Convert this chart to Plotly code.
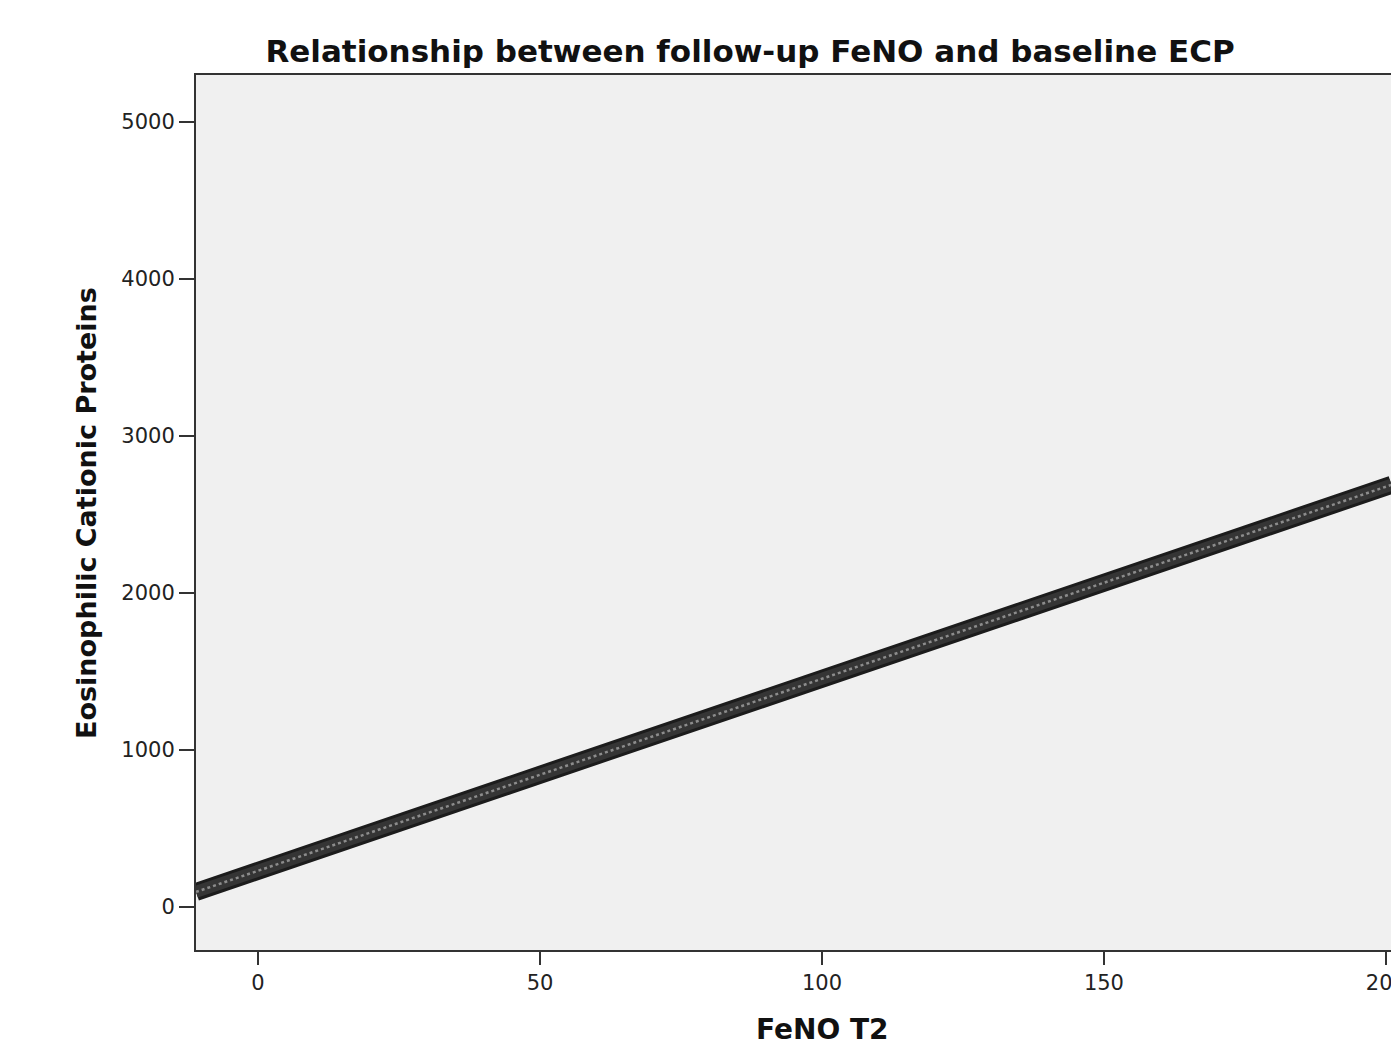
import plotly.graph_objects as go

# Fitted regression line of baseline ECP on follow-up FeNO (end points of the fit)
fit_feno = [-11.0, 201.0]
fit_ecp = [96.0, 2689.0]

x_ticks = [0, 50, 100, 150, 200]
y_ticks = [0, 1000, 2000, 3000, 4000, 5000]

title_text = "Relationship between follow-up FeNO and baseline ECP"
x_title = "FeNO T2"
y_title = "Eosinophilic Cationic Proteins"

font_family = "DejaVu Sans, Verdana, sans-serif"

W, H = 1391, 1046
L, R, T, B = 196, 0, 75, 96
plot_w = W - L - R
plot_h = H - T - B

fig = go.Figure()

# thick dark band
fig.add_trace(go.Scatter(
    x=fit_feno, y=fit_ecp, mode="lines",
    line=dict(color="#1c1c1c", width=18),
    hoverinfo="skip", showlegend=False,
))
# inner, slightly lighter body of the band
fig.add_trace(go.Scatter(
    x=fit_feno, y=fit_ecp, mode="lines",
    line=dict(color="#353535", width=12),
    hoverinfo="skip", showlegend=False,
))
# dotted texture along the band
fig.add_trace(go.Scatter(
    x=fit_feno, y=fit_ecp, mode="lines",
    line=dict(color="#8c8c8c", width=2.5, dash="dot"),
    hoverinfo="skip", showlegend=False,
))

fig.update_layout(
    width=W, height=H,
    margin=dict(l=L, r=R, t=T, b=B, autoexpand=False),
    paper_bgcolor="white",
    plot_bgcolor="#F0F0F0",
    font=dict(family=font_family, color="#222222", size=21),
    title=dict(
        text="<b>" + title_text + "</b>",
        x=750 / W, xanchor="center", xref="container",
        y=1 - 51 / H, yanchor="middle", yref="container",
        font=dict(size=31, color="#111111"),
    ),
    showlegend=False,
)

# axis titles placed as annotations relative to the plot area
fig.add_annotation(
    text="<b>" + x_title + "</b>", showarrow=False,
    xref="paper", yref="paper",
    x=(822 - L) / plot_w, y=-(1029 - (T + plot_h)) / plot_h,
    xanchor="center", yanchor="middle",
    font=dict(size=28, color="#111111", family=font_family),
)
fig.add_annotation(
    text="<b>" + y_title + "</b>", showarrow=False, textangle=-90,
    xref="paper", yref="paper",
    x=(86 - L) / plot_w, y=(T + plot_h - 513) / plot_h,
    xanchor="center", yanchor="middle",
    font=dict(size=27, color="#111111", family=font_family),
)

fig.update_xaxes(
    range=[-11.0, 200.9],
    tickvals=x_ticks, ticktext=[str(v) for v in x_ticks],
    ticks="outside", ticklen=13, tickwidth=2, tickcolor="#333333",
    showline=True, linecolor="#333333", linewidth=2, mirror=True,
    showgrid=False, zeroline=False, automargin=False,
    ticklabeloverflow="allow",
    tickfont=dict(size=21, color="#222222"),
)
fig.update_yaxes(
    range=[-274, 5299],
    tickvals=y_ticks, ticktext=[str(v) for v in y_ticks],
    ticks="outside", ticklen=15, tickwidth=2, tickcolor="#333333",
    showline=True, linecolor="#333333", linewidth=2, mirror=False,
    showgrid=False, zeroline=False, automargin=False,
    tickfont=dict(size=21, color="#222222"),
)

fig.write_html("out.html")
